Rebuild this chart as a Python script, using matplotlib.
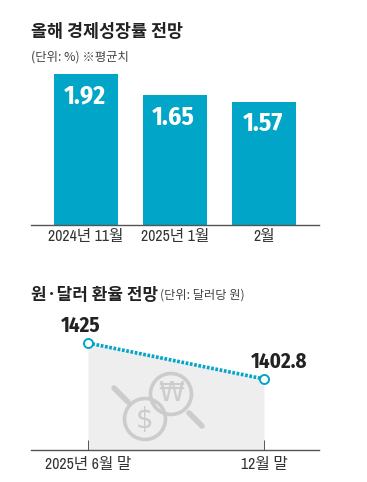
import matplotlib
matplotlib.use("Agg")
import matplotlib.pyplot as plt
from matplotlib.patches import Circle

plt.rcParams['font.family'] = ['Noto Sans CJK KR', 'DejaVu Sans']
NARROW = ['Archivo Narrow', 'Liberation Sans', 'Noto Sans CJK KR', 'DejaVu Sans']
NARROW_B = ['Fira Sans Condensed', 'Liberation Sans', 'DejaVu Sans']

# 올해 경제성장률 전망
months = ['2024년 11월', '2025년 1월', '2월']
growth = [1.92, 1.65, 1.57]

# 원/달러 환율 전망
fx_labels = ['2025년 6월 말', '12월 말']
fx_values = [1425, 1402.8]
fx_text = ['1425', '1402.8']

W, H = 367, 482
BLUE = '#00a5c8'
DARK = '#222222'
GREY = '#555555'

fig = plt.figure(figsize=(W/100, H/100), dpi=100, facecolor='white')

def px_axes(x0, y0, x1, y1):
    # caja en pixeles de la imagen (y hacia abajo)
    return fig.add_axes([x0/W, 1-y1/H, (x1-x0)/W, (y1-y0)/H])

# barras
ax = px_axes(31, 60, 319, 225)
ax.patch.set_alpha(0)
pos = range(len(growth))
ax.bar(pos, growth, width=0.72, color=BLUE)
ax.set_xlim((31-86)/89, (319-86)/89)
ax.set_ylim(0, 165/78.6)
for s in ['top', 'left', 'right']:
    ax.spines[s].set_visible(False)
ax.spines['bottom'].set_color(GREY)
ax.spines['bottom'].set_linewidth(1)
ax.set_yticks([])
ax.set_xticks(list(pos), months, fontsize=11.3, color='#333333', family=NARROW)
ax.tick_params(axis='x', length=0, pad=3)
for i, v in enumerate(growth):
    ax.annotate('%.2f' % v, (i, v), xytext=(-1, -7), textcoords='offset points',
                ha='center', va='top', color='white', fontsize=18.5,
                fontweight='bold', family=NARROW_B)

# linea
ax2 = px_axes(31, 310, 319, 450)
ax2.patch.set_alpha(0)
ax2.set_xlim((31-88)/176, (319-88)/176)
ax2.set_ylim(1425-107/1.62, 1425+33/1.62)
xs = [0, 1]
ax2.fill_between(xs, fx_values, ax2.get_ylim()[0], color='#eeeeee', lw=0)
ax2.plot(xs, fx_values, color=BLUE, lw=2.6, ls=(0, (0.75, 0.45)), zorder=3)
ax2.plot(xs, fx_values, ls='', marker='o', ms=6.5, mfc='white', mec=BLUE, mew=1.4, zorder=4)
for s in ['top', 'left', 'right']:
    ax2.spines[s].set_visible(False)
ax2.spines['bottom'].set_color(GREY)
ax2.spines['bottom'].set_linewidth(1)
ax2.set_yticks([])
ax2.set_xticks(xs, fx_labels, fontsize=11.3, color='#333333', family=NARROW)
ax2.tick_params(axis='x', direction='in', length=7, width=0.7, color=GREY, pad=5)
ax2.annotate(fx_text[0], (0, fx_values[0]), xytext=(-5, 5), textcoords='offset points',
             ha='center', va='bottom', fontsize=15, fontweight='bold', color=DARK, family=NARROW_B)
ax2.annotate(fx_text[1], (1, fx_values[1]), xytext=(11, 5), textcoords='offset points',
             ha='center', va='bottom', fontsize=15, fontweight='bold', color=DARK, family=NARROW_B)

# capa para icono y titulos, en pixeles
ov = fig.add_axes([0, 0, 1, 1])
ov.set_xlim(0, W)
ov.set_ylim(H, 0)
ov.axis('off')
ov.patch.set_alpha(0)
ICON = '#cccccc'
ov.plot([114, 128], [388, 402], color=ICON, lw=4, solid_capstyle='round')
ov.plot([189, 202], [413, 426], color=ICON, lw=4, solid_capstyle='round')
ov.add_patch(Circle((145, 419), 20.5, fc='none', ec=ICON, lw=2.6))
ov.add_patch(Circle((171, 394), 20.5, fc='none', ec=ICON, lw=2.6))
ov.text(145, 420, '$', ha='center', va='center', fontsize=20, color=ICON, family='DejaVu Sans')
ov.text(171, 394, '₩', ha='center', va='center', fontsize=19, color=ICON, family='DejaVu Sans')

ov.text(31, 32, '올해 경제성장률 전망', fontsize=12.5, fontweight='bold', color=DARK, va='center')
ov.text(31, 57, '(단위: %) ※평균치', fontsize=8.9, color='#444444', va='center')
ov.text(31, 295, '원·달러 환율 전망', fontsize=12.2, fontweight='bold', color=DARK, va='center')
ov.text(160, 295, '(단위: 달러당 원)', fontsize=8.8, color='#444444', va='center')

fig.savefig('out.png', dpi=100)
